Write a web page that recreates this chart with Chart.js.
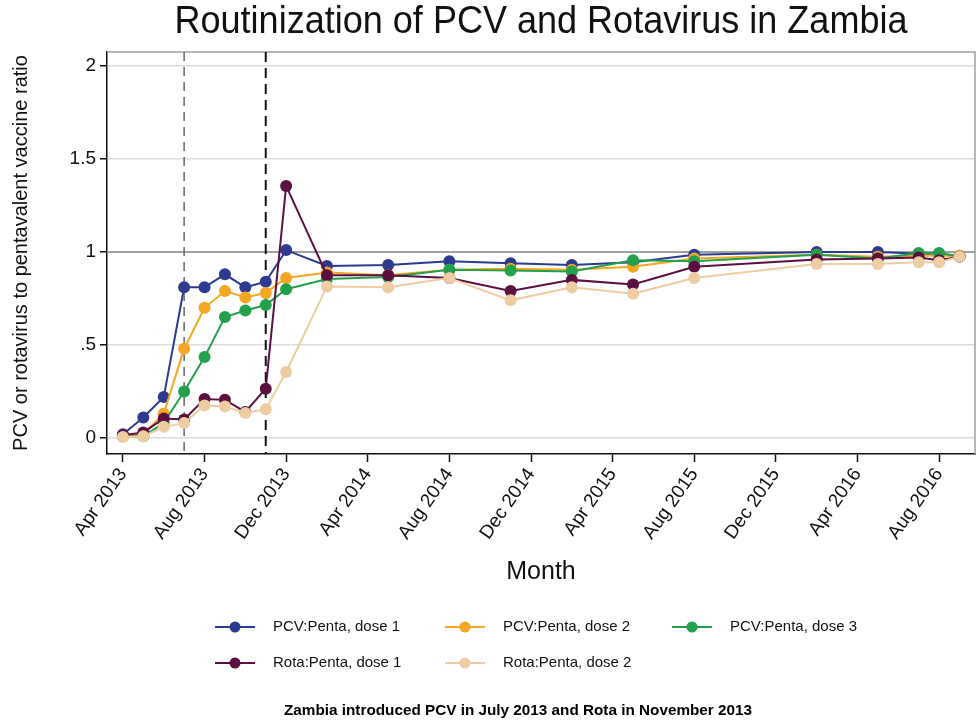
<!DOCTYPE html>
<html>
<head>
<meta charset="utf-8">
<script src="https://cdn.jsdelivr.net/npm/chart.js@4"></script>
<style>
  html, body { margin: 0; padding: 0; background: #fff; }
  #wrap { width: 976px; height: 723px; }
</style>
</head>
<body>
<div id="wrap"><canvas id="myChart" width="976" height="723"></canvas></div>
<script>
// Months with data (year-month)
const months = ['2013-04', '2013-05', '2013-06', '2013-07', '2013-08', '2013-09', '2013-10', '2013-11', '2013-12',
  '2014-02', '2014-05', '2014-08', '2014-11', '2015-02', '2015-05', '2015-08', '2016-02', '2016-05',
  '2016-07', '2016-08', '2016-09'];

// Ratios
const pcvDose1 = [0.02, 0.11, 0.22, 0.81, 0.81, 0.88, 0.81, 0.84, 1.01, 0.925, 0.93, 0.95, 0.94, 0.93, 0.945, 0.985, 1.0, 1.0, 0.99, 0.99, 0.98];
const pcvDose2 = [0.01, 0.02, 0.13, 0.48, 0.70, 0.79, 0.755, 0.78, 0.86, 0.89, 0.875, 0.905, 0.91, 0.905, 0.92, 0.965, 0.985, 0.975, 0.98, 0.98, 0.98];
const pcvDose3 = [0.01, 0.01, 0.08, 0.25, 0.435, 0.65, 0.685, 0.715, 0.80, 0.855, 0.865, 0.905, 0.90, 0.895, 0.955, 0.95, 0.985, 0.965, 0.995, 0.995, 0.975];
const rotaDose1 = [0.015, 0.03, 0.105, 0.10, 0.21, 0.205, 0.14, 0.265, 1.355, 0.875, 0.875, 0.86, 0.79, 0.85, 0.825, 0.92, 0.96, 0.965, 0.97, 0.955, 0.975];
const rotaDose2 = [0.005, 0.01, 0.06, 0.08, 0.175, 0.17, 0.135, 0.155, 0.355, 0.815, 0.81, 0.86, 0.74, 0.81, 0.775, 0.86, 0.935, 0.935, 0.945, 0.945, 0.975];

const seriesNames = ['PCV:Penta, dose 1', 'PCV:Penta, dose 2', 'PCV:Penta, dose 3', 'Rota:Penta, dose 1', 'Rota:Penta, dose 2'];
const seriesColors = ['#2c3a8f', '#f5a623', '#22a04b', '#5c1040', '#efcda3'];

const xTickLabels = ['Apr 2013', 'Aug 2013', 'Dec 2013', 'Apr 2014', 'Aug 2014', 'Dec 2014',
  'Apr 2015', 'Aug 2015', 'Dec 2015', 'Apr 2016', 'Aug 2016'];
const yTicks = [0, 0.5, 1, 1.5, 2];
const yTickLabels = ['0', '.5', '1', '1.5', '2'];

// Introduction dates: PCV July 2013, Rota November 2013
const introMonths = ['2013-07', '2013-11'];

const monthNames = ['Jan', 'Feb', 'Mar', 'Apr', 'May', 'Jun', 'Jul', 'Aug', 'Sep', 'Oct', 'Nov', 'Dec'];

// month index, Apr 2013 = 0
function monthIndex(ym) {
    const [y, m] = ym.split('-').map(Number);
    return (y - 2013) * 12 + (m - 4);
}
function labelIndex(label) {
    const [mn, y] = label.split(' ');
    return (Number(y) - 2013) * 12 + (monthNames.indexOf(mn) + 1 - 4);
}

const allSeries = [pcvDose1, pcvDose2, pcvDose3, rotaDose1, rotaDose2];
const datasets = allSeries.map((vals, i) => ({
    label: seriesNames[i],
    data: vals.map((v, j) => ({ x: monthIndex(months[j]), y: v })),
    borderColor: seriesColors[i],
    backgroundColor: seriesColors[i],
    pointBackgroundColor: seriesColors[i],
    pointBorderWidth: 0,
    pointRadius: 6,
    borderWidth: 2,
    order: allSeries.length - i, // later series on top
    tension: 0
}));

const FONT = "'Liberation Sans', Arial, sans-serif";

// draw text squeezed to a given width (the original uses a narrow font)
function squeezedText(ctx, text, cx, cy, width) {
    const w = ctx.measureText(text).width;
    ctx.save();
    ctx.translate(cx, cy);
    ctx.scale(width / w, 1);
    ctx.textAlign = 'center';
    ctx.textBaseline = 'middle';
    ctx.fillText(text, 0, 0);
    ctx.restore();
}

// reference lines + frame
const refLines = {
    id: 'refLines',
    beforeDatasetsDraw(chart) {
        const { ctx, chartArea: a, scales: { x, y } } = chart;
        ctx.save();
        // frame top/right
        ctx.strokeStyle = '#a0a0a0';
        ctx.lineWidth = 1.5;
        ctx.beginPath();
        ctx.moveTo(a.left, a.top);
        ctx.lineTo(a.right, a.top);
        ctx.lineTo(a.right, a.bottom);
        ctx.stroke();
        // y = 1 line
        ctx.strokeStyle = '#808080';
        ctx.lineWidth = 1.5;
        ctx.beginPath();
        ctx.moveTo(a.left, y.getPixelForValue(1));
        ctx.lineTo(a.right, y.getPixelForValue(1));
        ctx.stroke();
        // intro dashed lines
        const styles = [{ c: '#666', w: 1.5, d: [9, 6] }, { c: '#111', w: 2, d: [10, 6] }];
        introMonths.forEach((m, i) => {
            const px = x.getPixelForValue(monthIndex(m));
            ctx.strokeStyle = styles[i].c;
            ctx.lineWidth = styles[i].w;
            ctx.setLineDash(styles[i].d);
            ctx.beginPath();
            ctx.moveTo(px, a.top);
            ctx.lineTo(px, a.bottom);
            ctx.stroke();
        });
        ctx.restore();
    }
};

// title, legend and caption
const extraText = {
    id: 'extraText',
    afterDraw(chart) {
        const { ctx, chartArea: a } = chart;
        ctx.save();
        // title centred over the plot region
        ctx.fillStyle = '#111';
        ctx.font = '38px ' + FONT;
        squeezedText(ctx, 'Routinization of PCV and Rotavirus in Zambia', (a.left + a.right) / 2, 23, 733);

        const lineX = [215, 445, 672];
        const rowY = [627, 663];
        ctx.font = '15px ' + FONT;
        ctx.textBaseline = 'middle';
        seriesNames.forEach((name, i) => {
            const col = i < 3 ? i : i - 3;
            const row = i < 3 ? 0 : 1;
            const x0 = lineX[col], yy = rowY[row];
            ctx.strokeStyle = seriesColors[i];
            ctx.lineWidth = 2;
            ctx.beginPath();
            ctx.moveTo(x0, yy);
            ctx.lineTo(x0 + 40, yy);
            ctx.stroke();
            ctx.fillStyle = seriesColors[i];
            ctx.beginPath();
            ctx.arc(x0 + 20, yy, 5.5, 0, Math.PI * 2);
            ctx.fill();
            ctx.fillStyle = '#111';
            ctx.textAlign = 'left';
            ctx.fillText(name, x0 + 58, yy);
        });
        // caption
        ctx.fillStyle = '#000';
        ctx.font = "bold 15px " + FONT;
        squeezedText(ctx, 'Zambia introduced PCV in July 2013 and Rota in November 2013', 518, 711, 468);
        ctx.restore();
    }
};

const ctx = document.getElementById('myChart').getContext('2d');
const chart = new Chart(ctx, {
    type: 'line',
    data: { datasets: datasets },
    options: {
        responsive: false,
        animation: false,
        layout: { autoPadding: false, padding: { left: 0, right: 1, top: 52, bottom: 123 } },
        plugins: {
            legend: { display: false },
            tooltip: { enabled: false },
            title: { display: false }
        },
        scales: {
            x: {
                type: 'linear',
                min: -0.78,
                max: 41.76,
                afterBuildTicks: scale => {
                    scale.ticks = xTickLabels.map(l => ({ value: labelIndex(l) }));
                },
                afterFit: scale => {
                    scale.height = 146;
                    scale.paddingLeft = 0;
                    scale.paddingRight = 0;
                },
                ticks: {
                    callback: v => xTickLabels[xTickLabels.findIndex(l => labelIndex(l) === v)],
                    minRotation: 55,
                    maxRotation: 55,
                    autoSkip: false,
                    color: '#111',
                    padding: 2,
                    font: { family: FONT, size: 19 }
                },
                grid: { drawOnChartArea: false, drawTicks: true, tickLength: 8, tickColor: '#111', tickWidth: 1.5 },
                border: { display: true, color: '#111', width: 1.5 },
                title: {
                    display: true,
                    text: 'Month',
                    color: '#111',
                    font: { family: FONT, size: 25 },
                    padding: { top: 0, bottom: 13 }
                }
            },
            y: {
                min: -0.086,
                max: 2.075,
                afterBuildTicks: scale => {
                    scale.ticks = yTicks.map(v => ({ value: v }));
                },
                afterFit: scale => {
                    scale.width = 107;
                    scale.paddingTop = 0;
                    scale.paddingBottom = 0;
                },
                ticks: {
                    callback: v => yTickLabels[yTicks.indexOf(v)],
                    color: '#111',
                    padding: 4,
                    font: { family: FONT, size: 19 }
                },
                grid: {
                    color: c => (c.tick && c.tick.value === 1) ? 'rgba(0,0,0,0)' : '#dcdcdc',
                    lineWidth: 1.5,
                    tickLength: 7,
                    tickColor: '#111',
                    tickWidth: 1.5
                },
                border: { display: true, color: '#111', width: 1.5 },
                title: {
                    display: true,
                    text: 'PCV or rotavirus to pentavalent vaccine ratio',
                    color: '#111',
                    font: { family: FONT, size: 20 },
                    padding: { top: 9, bottom: 0 }
                }
            }
        }
    },
    plugins: [refLines, extraText]
});
</script>
</body>
</html>
